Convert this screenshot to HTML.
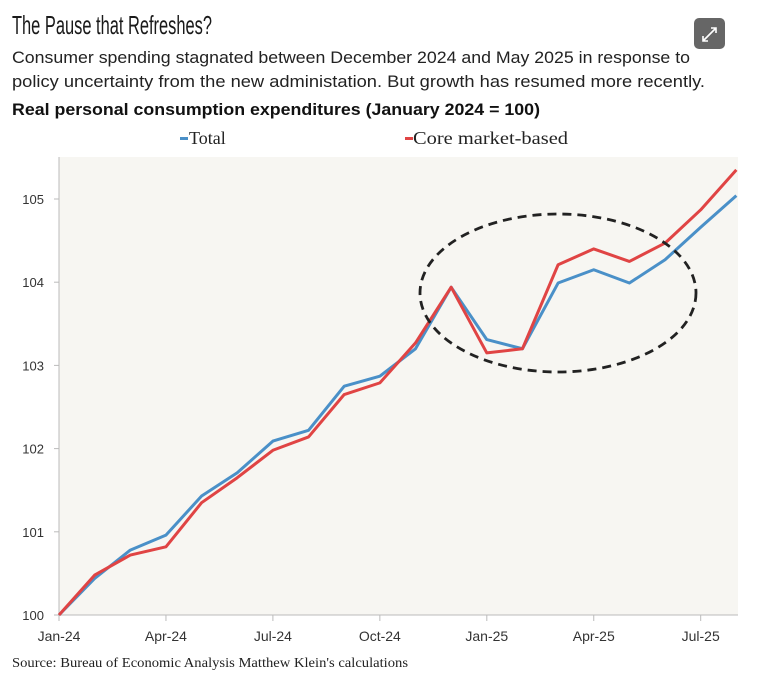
<!DOCTYPE html>
<html><head><meta charset="utf-8"><style>
body{margin:0;background:#fff;}
svg{display:block;}
</style></head><body>
<svg width="760" height="687" viewBox="0 0 760 687" xmlns="http://www.w3.org/2000/svg">
<text x="12" y="34" font-family="Liberation Sans, sans-serif" font-size="26" fill="#1a1a1a" textLength="200" lengthAdjust="spacingAndGlyphs">The Pause that Refreshes?</text>
<text x="12" y="63" font-family="Liberation Sans, sans-serif" font-size="17" fill="#222" textLength="678" lengthAdjust="spacingAndGlyphs">Consumer spending stagnated between December 2024 and May 2025 in response to</text>
<text x="12" y="87" font-family="Liberation Sans, sans-serif" font-size="17" fill="#222" textLength="693" lengthAdjust="spacingAndGlyphs">policy uncertainty from the new administation. But growth has resumed more recently.</text>
<text x="12" y="115" font-family="Liberation Sans, sans-serif" font-size="17" font-weight="bold" fill="#111" textLength="528" lengthAdjust="spacingAndGlyphs">Real personal consumption expenditures (January 2024 = 100)</text>
<g>
<rect x="694" y="18" width="31" height="31" rx="5" fill="#666"/>
<path d="M703 41 L716 28 M711 28 L716 28 L716 33 M703 36 L703 41 L708 41" stroke="#fff" stroke-width="1.6" fill="none"/>
</g>
<g>
<g><rect x="180" y="137" width="8" height="3" fill="#4a90c8"/><text x="189" y="144" font-family="Liberation Serif, serif" font-size="18" fill="#222">Total</text></g>
<g><rect x="405" y="137" width="8" height="3" fill="#e04444"/><text x="413" y="144" font-family="Liberation Serif, serif" font-size="18" fill="#222" textLength="155" lengthAdjust="spacingAndGlyphs">Core market-based</text></g>
</g>
<rect x="59" y="157" width="679" height="458" fill="#f7f6f2"/>
<g id="axes"></g>
<g id="series"></g>
<ellipse cx="558" cy="293" rx="138" ry="79" fill="none" stroke="#222" stroke-width="2.8" stroke-dasharray="9,6"/>
<text x="12" y="667" font-family="Liberation Serif, serif" font-size="14" fill="#222" textLength="396" lengthAdjust="spacingAndGlyphs">Source: Bureau of Economic Analysis Matthew Klein's calculations</text>
</svg>
<script>
const months = ["Jan-24","Feb-24","Mar-24","Apr-24","May-24","Jun-24","Jul-24","Aug-24","Sep-24","Oct-24","Nov-24","Dec-24","Jan-25","Feb-25","Mar-25","Apr-25","May-25","Jun-25","Jul-25","Aug-25"];
const totalValues = [100,100.44,100.78,100.96,101.43,101.71,102.09,102.22,102.75,102.87,103.20,103.94,103.31,103.20,103.99,104.15,103.99,104.27,104.66,105.04];
const coreValues = [100,100.48,100.72,100.82,101.35,101.65,101.98,102.14,102.65,102.79,103.27,103.94,103.15,103.20,104.21,104.40,104.25,104.47,104.87,105.35];
const yTicks = [100,101,102,103,104,105];
const xTickIdx = [0,3,6,9,12,15,18];
const NS="http://www.w3.org/2000/svg";
const x0=59, dx=35.65, yBase=615, yScale=83.2;
function xs(i){return x0+i*dx;}
function ys(v){return yBase-(v-100)*yScale;}
function mk(tag,attrs,parent){const e=document.createElementNS(NS,tag);for(const k in attrs)e.setAttribute(k,attrs[k]);parent.appendChild(e);return e;}
const axes=document.getElementById('axes');
const yl=mk('line',{x1:59,y1:157,x2:59,y2:615,stroke:'#bbb','stroke-width':1},axes);


const xl=mk('line',{x1:59,y1:615,x2:738,y2:615,stroke:'#bbb','stroke-width':1},axes);


yTicks.forEach(v=>{
  const t=mk('line',{x1:54,y1:ys(v),x2:59,y2:ys(v),stroke:'#bbb'},axes);
  
  
  const l=mk('text',{x:44,y:ys(v)+5,'text-anchor':'end','font-family':'Liberation Sans, sans-serif','font-size':13,fill:'#333'},axes);
  l.textContent=v;
  
  
});
xTickIdx.forEach(i=>{
  const t=mk('line',{x1:xs(i),y1:615,x2:xs(i),y2:621,stroke:'#bbb'},axes);
  
  
  const l=mk('text',{x:xs(i),y:641,'text-anchor':'middle','font-family':'Liberation Sans, sans-serif','font-size':14,fill:'#333'},axes);
  l.textContent=months[i];
  
  
});
const series=document.getElementById('series');
function line(vals,color,name){
  const p=mk('polyline',{points:vals.map((v,i)=>xs(i)+','+ys(v)).join(' '),fill:'none',stroke:color,'stroke-width':3,'stroke-linejoin':'round'},series);
  
  
}
line(totalValues,'#4a90c8','total-line');
line(coreValues,'#e04444','core-market-based-line');
</script>
</body></html>
